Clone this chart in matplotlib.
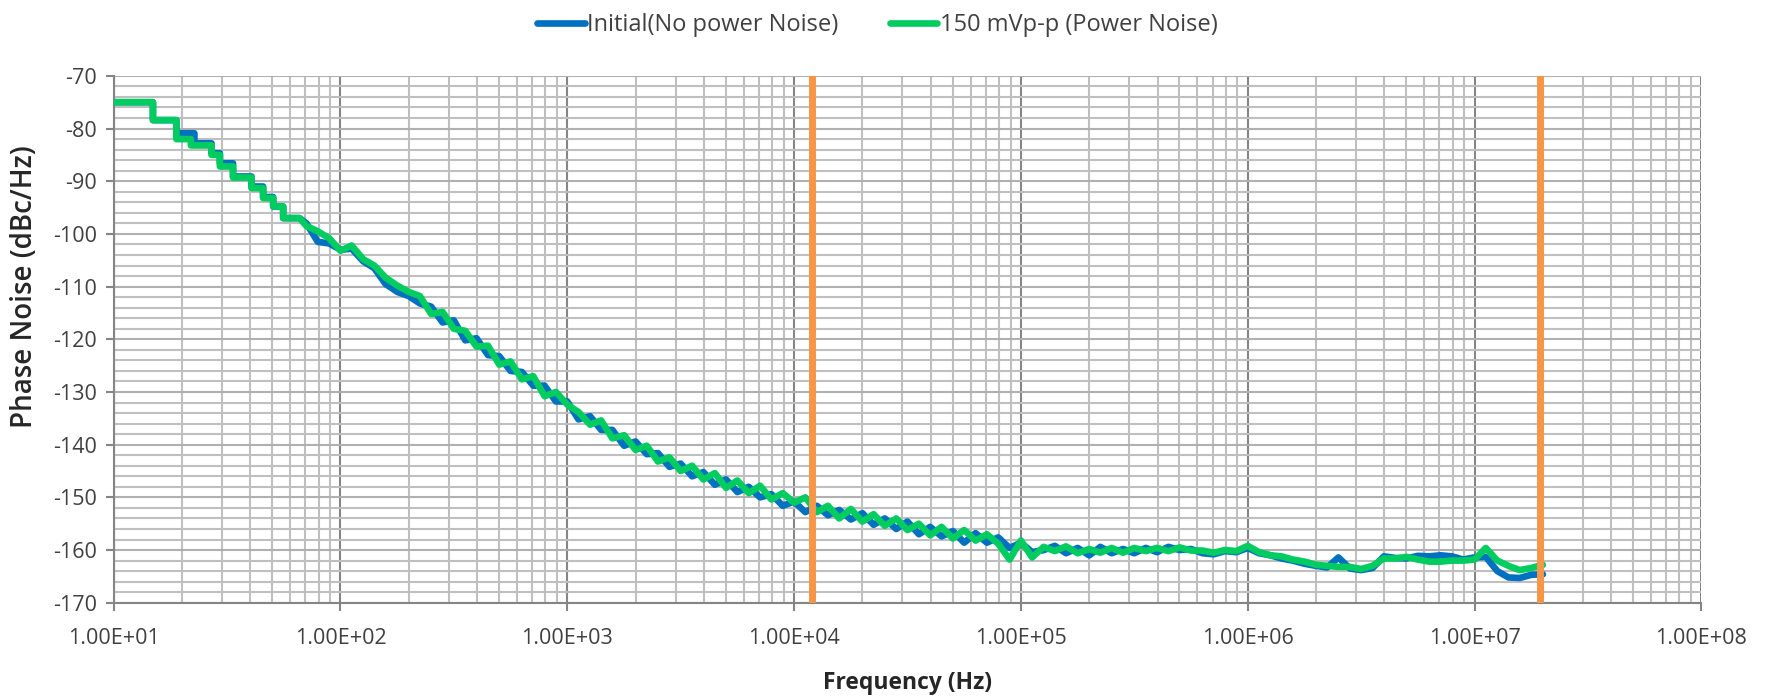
import numpy as np
import matplotlib
matplotlib.use("Agg")
import matplotlib.pyplot as plt
from matplotlib.ticker import MultipleLocator, LogLocator, FuncFormatter, NullFormatter

plt.rcParams['font.family'] = ['Open Sans', 'DejaVu Sans']
plt.rcParams['axes.unicode_minus'] = False

# legend names
blue_name = "Initial(No power Noise)"
green_name = "150 mVp-p (Power Noise)"

# low frequency part, read as flat steps (edge frequencies and level between edges)
blue_edges = [10, 14.9, 18.9, 22.7, 27.0, 29.4, 33.6, 40.5, 45.6, 50.5, 55.9, 66.0]
blue_levels = [-75, -78.4, -80.9, -82.8, -84.7, -86.6, -89.1, -91.0, -93.0, -94.8, -97.0]
green_edges = [10, 14.9, 18.9, 21.9, 27.0, 29.4, 33.6, 40.5, 45.6, 50.5, 55.9, 66.0]
green_levels = [-75, -78.4, -82.0, -83.2, -85.0, -87.2, -89.3, -91.3, -93.2, -94.8, -97.0]

# rest of the trace (Hz)
freq = [70.8, 79.4, 89.1, 100, 112, 126, 141, 158, 178, 200,
        224, 251, 282, 316, 355, 398, 447, 501, 562, 631, 708, 794, 891, 1000,
        1.12e3, 1.26e3, 1.41e3, 1.58e3, 1.78e3, 2.0e3, 2.24e3, 2.51e3, 2.82e3, 3.16e3,
        3.55e3, 3.98e3, 4.47e3, 5.01e3, 5.62e3, 6.31e3, 7.08e3, 7.94e3, 8.91e3, 1e4,
        1.12e4, 1.26e4, 1.41e4, 1.58e4, 1.78e4, 2.0e4, 2.24e4, 2.51e4, 2.82e4, 3.16e4,
        3.55e4, 3.98e4, 4.47e4, 5.01e4, 5.62e4, 6.31e4, 7.08e4, 7.94e4, 8.91e4, 1e5,
        1.12e5, 1.26e5, 1.41e5, 1.58e5, 1.78e5, 2.0e5, 2.24e5, 2.51e5, 2.82e5, 3.16e5,
        3.55e5, 3.98e5, 4.47e5, 5.01e5, 5.62e5, 6.31e5, 7.08e5, 7.94e5, 8.91e5, 1e6,
        1.12e6, 1.26e6, 1.41e6, 1.58e6, 1.78e6, 2.0e6, 2.24e6, 2.51e6, 2.82e6, 3.16e6,
        3.55e6, 3.98e6, 4.47e6, 5.01e6, 5.62e6, 6.31e6, 7.08e6, 7.94e6, 8.91e6, 1e7,
        1.12e7, 1.26e7, 1.41e7, 1.58e7, 1.78e7, 2.0e7]

blue_pn = [-98.0, -101.5, -101.8, -103.0, -102.8, -105.2, -106.5, -109.5, -111.0, -111.8,
           -113.2, -113.8, -116.8, -116.4, -120.2, -119.8, -123.0, -123.2, -126.0, -126.2,
           -128.8, -128.8, -131.8, -131.8,
           -135.2, -134.6, -137.2, -137.2, -140.2, -139.4, -141.8, -141.6, -144.2, -143.6,
           -146.0, -145.2, -147.6, -146.6, -149.0, -148.0, -150.0, -149.4, -151.6, -150.8,
           -152.8, -151.6, -153.4, -152.4, -154.2, -153.0, -155.2, -154.0, -156.0, -154.6,
           -157.0, -155.6, -157.4, -156.4, -158.6, -156.8, -158.6, -157.6, -159.6, -158.6,
           -160.4, -160.0, -159.2, -160.6, -159.6, -161.0, -159.4, -160.6, -159.8, -160.6,
           -159.6, -160.4, -159.4, -160.0, -159.8, -160.6, -160.8, -160.2, -160.4, -159.6,
           -160.6, -161.0, -161.6, -162.0, -162.6, -163.0, -163.3, -161.4, -163.5, -163.8,
           -163.4, -161.2, -161.5, -161.6, -161.1, -161.2, -161.0, -161.2, -161.8, -161.4,
           -161.3, -164.0, -165.2, -165.3, -164.7, -164.6]

green_pn = [-98.5, -99.5, -100.8, -103.2, -102.2, -104.8, -106.0, -108.3, -109.8, -111.0,
            -111.8, -115.2, -114.8, -118.0, -118.4, -121.4, -121.2, -124.8, -124.2, -127.6,
            -127.0, -130.8, -130.0, -132.4,
            -133.8, -136.2, -135.4, -138.8, -138.2, -141.0, -140.2, -143.2, -142.4, -145.0,
            -144.0, -146.6, -145.4, -148.2, -146.8, -149.2, -147.8, -150.4, -149.2, -151.0,
            -150.0, -152.8, -151.6, -154.0, -152.2, -154.6, -153.2, -155.4, -154.0, -156.2,
            -155.0, -157.2, -155.6, -157.8, -156.2, -158.2, -157.0, -158.8, -161.8, -158.2,
            -161.4, -159.4, -160.2, -159.3, -160.6, -159.8, -160.5, -159.6, -160.5, -159.6,
            -160.2, -159.6, -160.2, -159.5, -160.1, -160.1, -160.5, -160.0, -160.2, -159.2,
            -160.4, -161.0, -161.2, -161.8, -162.2, -162.8, -163.0, -163.2, -163.2, -163.6,
            -163.0, -161.6, -161.6, -161.3, -161.8, -162.2, -162.2, -162.0, -162.0, -161.8,
            -159.6, -162.0, -163.0, -163.8, -163.4, -162.8]

# integration limits (orange markers)
limits = [1.2e4, 1.95e7]


def stepped(edges, levels):
    xs, ys = [], []
    for i, lv in enumerate(levels):
        xs += [edges[i], edges[i + 1]]
        ys += [lv, lv]
    return xs, ys


bx, by = stepped(blue_edges, blue_levels)
gx, gy = stepped(green_edges, green_levels)
bx += freq
by += blue_pn
gx += freq
gy += green_pn

fig = plt.figure(figsize=(17.76, 6.96), dpi=100)
ax = fig.add_subplot(111)
fig.subplots_adjust(left=0.064, right=0.958, top=0.891, bottom=0.134)

ax.set_xscale('log')
ax.set_xlim(10, 1e8)
ax.set_ylim(-170, -70)

# grid like excel
ax.xaxis.set_major_locator(LogLocator(base=10, numticks=20))
ax.xaxis.set_minor_locator(LogLocator(base=10, subs=np.arange(2, 10), numticks=200))
ax.xaxis.set_minor_formatter(NullFormatter())
ax.xaxis.set_major_formatter(FuncFormatter(lambda v, p: f"{v:.2E}"))
ax.yaxis.set_major_locator(MultipleLocator(10))
ax.yaxis.set_minor_locator(MultipleLocator(2))

ax.grid(True, which='minor', axis='both', color='#BFBFBF', lw=1.5)
ax.grid(True, which='major', axis='y', color='#B0B0B0', lw=1.5)
ax.grid(True, which='major', axis='x', color='#858585', lw=1.5)
ax.set_axisbelow(True)

for s in ['top', 'right']:
    ax.spines[s].set_visible(False)
for s in ['left', 'bottom']:
    ax.spines[s].set_color('#858585')
    ax.spines[s].set_linewidth(1.5)

ax.tick_params(axis='both', which='major', length=6, width=1.5, color='#858585',
               labelsize=15.5, labelcolor='#404040', pad=6)
ax.tick_params(axis='both', which='minor', length=0)
ax.tick_params(axis='x', which='major', pad=12)

ax.plot(bx, by, color='#0070C0', lw=4.8, solid_joinstyle='round',
        solid_capstyle='round', label=blue_name, zorder=3)
ax.plot(gx, gy, color='#00CC60', lw=4.8, solid_joinstyle='round',
        solid_capstyle='round', label=green_name, zorder=4)

for f in limits:
    ax.axvline(f, color='#F79646', lw=5, zorder=5)

ax.set_xlabel("Frequency (Hz)", fontsize=16.5, fontweight='bold', color='#262626', labelpad=16)
ax.set_ylabel("Phase Noise (dBc/Hz)", fontsize=20, fontweight='semibold', color='#262626')
ax.yaxis.set_label_coords(-0.047, 0.60)

fig.legend(loc='center', bbox_to_anchor=(0.494, 0.964), ncol=2, frameon=False,
           fontsize=17, handlelength=2.0, handletextpad=0.1, columnspacing=2.2,
           labelcolor='#404040')

fig.savefig("out.png", dpi=100)
